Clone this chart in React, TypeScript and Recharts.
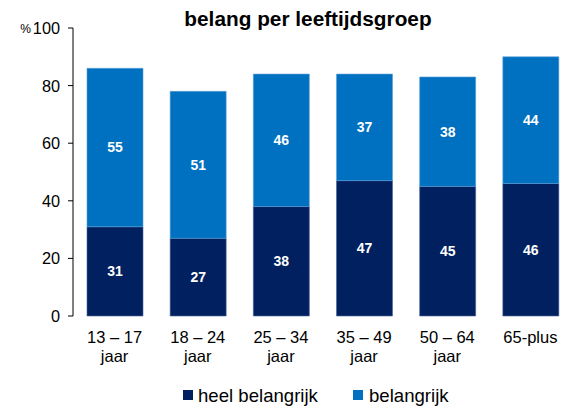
import React from 'react';
import { BarChart, Bar, XAxis, YAxis, LabelList } from 'recharts';

const groupLine1 = ['13 – 17', '18 – 24', '25 – 34', '35 – 49', '50 – 64', '65-plus'];
const groupLine2 = ['jaar', 'jaar', 'jaar', 'jaar', 'jaar', ''];
const heelBelangrijk = [31, 27, 38, 47, 45, 46];
const belangrijk = [55, 51, 46, 37, 38, 44];
const yTicks = [0, 20, 40, 60, 80, 100];

const DARK = '#002060';
const LIGHT = '#0070C0';
const FONT = '"Liberation Sans", Arial, sans-serif';

const data = groupLine1.map((g, i) => ({
  name: g,
  line2: groupLine2[i],
  heel: heelBelangrijk[i],
  bel: belangrijk[i],
}));

const YTick = (props: any) => {
  const { x, y, payload } = props;
  const v = payload.value;
  return (
    <g>
      {v === 100 && (
        <text x={x - 29} y={y + 5} textAnchor="end" fontSize={12} fontFamily={FONT} fill="#000">
          %
        </text>
      )}
      <text x={x} y={y + 6} textAnchor="end" fontSize={16.3} fontFamily={FONT} fill="#000">
        {v}
      </text>
    </g>
  );
};

const XTick = (props: any) => {
  const { x, y, payload, index } = props;
  return (
    <g>
      <text x={x} y={y + 27} textAnchor="middle" fontSize={16.5} fontFamily={FONT} fill="#000">
        {payload.value}
      </text>
      <text x={x} y={y + 46} textAnchor="middle" fontSize={16.5} fontFamily={FONT} fill="#000">
        {groupLine2[index]}
      </text>
    </g>
  );
};

const labelStyle = { fill: '#fff', fontSize: 14, fontWeight: 700, fontFamily: FONT };

export default function App() {
  return (
    <div style={{ position: 'absolute', left: 0, top: 0, width: 563, height: 407, overflow: 'hidden', background: '#fff' }}>
      <BarChart
        width={580}
        height={407}
        data={data}
        margin={{ top: 28, right: 8, bottom: 0, left: 0 }}
        barSize={56}
      >
        <XAxis
          dataKey="name"
          axisLine={false}
          tickLine={false}
          tickSize={0}
          tickMargin={0}
          height={91}
          tick={<XTick />}
          interval={0}
        />
        <YAxis
          width={73}
          domain={[0, 100]}
          ticks={yTicks}
          interval={0}
          axisLine={{ stroke: '#000', strokeWidth: 1 }}
          tickLine={{ stroke: '#000', strokeWidth: 1 }}
          tickSize={5}
          tickMargin={8}
          tick={<YTick />}
        />
        <Bar dataKey="heel" stackId="a" fill={DARK} stroke="#4a6496" strokeWidth={0.6} isAnimationActive={false}>
          <LabelList dataKey="heel" position="center" style={labelStyle} />
        </Bar>
        <Bar dataKey="bel" stackId="a" fill={LIGHT} stroke="#5c9fd6" strokeWidth={0.6} isAnimationActive={false}>
          <LabelList dataKey="bel" position="center" style={labelStyle} />
        </Bar>
      </BarChart>
      <svg width={563} height={407} style={{ position: 'absolute', left: 0, top: 0, pointerEvents: 'none' }}>
        <text x={308} y={26} textAnchor="middle" fontSize={20.8} fontWeight={700} fontFamily={FONT} fill="#000">
          belang per leeftijdsgroep
        </text>
        <rect x={183} y={390} width={10} height={10} fill={DARK} />
        <text x={198} y={402} fontSize={18.6} fontFamily={FONT} fill="#000">
          heel belangrijk
        </text>
        <rect x={353} y={390} width={10} height={10} fill={LIGHT} />
        <text x={369} y={402} fontSize={18.6} fontFamily={FONT} fill="#000">
          belangrijk
        </text>
      </svg>
    </div>
  );
}
